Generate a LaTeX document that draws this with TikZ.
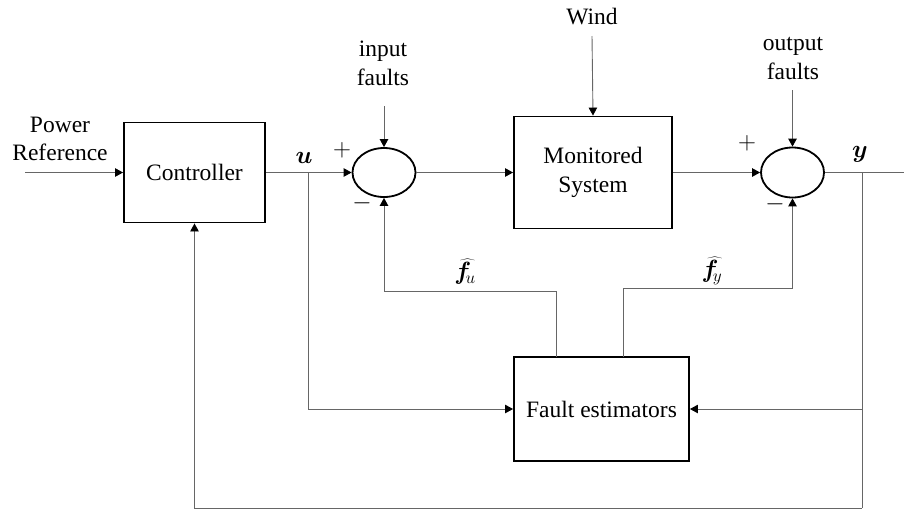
\documentclass[tikz,border=0pt]{standalone}
\usepackage{fontspec}
\usepackage{bm}
\setmainfont{Liberation Serif}
\usetikzlibrary{shapes.geometric,arrows.meta,calc}
\tikzset{
  txt/.style={font=\fontsize{23.5}{28.5}\selectfont, inner sep=0pt, align=center},
  blockbox/.style={draw=black, line width=1.9pt, rectangle, inner sep=0pt, font=\fontsize{23.5}{28.5}\selectfont, align=center},
  sumnode/.style={draw=black, line width=1.8pt, ellipse, inner sep=0pt, minimum width=63pt, minimum height=49pt},
  conn/.style={draw=black!60, line width=0.9pt},
  arr/.style={conn, -{Triangle[length=8pt,width=8.5pt,color=black]}},
}
\begin{document}
\begin{tikzpicture}[x=1pt,y=-1pt]
\useasboundingbox (0,0) rectangle (904,512);
% blocks
\node[blockbox, minimum width=141pt, minimum height=100pt] (ctrl) at (194.5,172.5) {Controller};
\node[sumnode] (s1) at (384,172.5) {};
\node[blockbox, minimum width=158pt, minimum height=112pt] (mon) at (593,172.5) {Monitored\\System};
\node[sumnode, minimum height=50pt] (s2) at (792.5,172.5) {};
\node[blockbox, minimum width=175pt, minimum height=104pt] (fe) at (601.5,409) {Fault estimators};
% texts
\node[txt] (pref) at (60,139) {Power\\Reference};
\node[txt] (inf) at (383,63.5) {input\\faults};
\node[txt] (wind) at (592,17) {Wind};
\node[txt] (outf) at (793,58.5) {output\\faults};
\node[txt] (ul) at (304,158) {$\bm{u}$};
\node[txt] (yl) at (860,154) {$\bm{y}$};
\node[txt] (fu) at (465,272) {$\widehat{\bm{f}}_{\!u}$};
\node[txt] (fy) at (712,271) {$\widehat{\bm{f}}_{\!y}$};
\node[txt] (p1) at (342,150) {$+$};
\node[txt] (m1) at (362,203) {$-$};
\node[txt] (p2) at (747,143) {$+$};
\node[txt] (m2) at (775,204) {$-$};
% coordinates
\coordinate (in) at (25,172.5);
\coordinate (ifs) at (384,106);
\coordinate (ws) at (592,36);
\coordinate (ofs) at (792.5,90);
\coordinate (out) at (904,172.5);
\coordinate (bu) at (308,172.5);
\coordinate (by) at (862,172.5);
\coordinate (byf) at (862,409);
\coordinate (bot) at (862,508);
\coordinate (fuc) at (384,291);
\coordinate (fyc) at (792.5,288);
\coordinate (feu) at (556,357);
\coordinate (fey) at (623,357);
% connectors
\draw[arr] (in) -- (ctrl.west);
\draw[arr] (ctrl.east) -- (s1.west);
\draw[arr] (ifs) -- (s1.north);
\draw[arr] (s1.east) -- (mon.west);
\draw[arr] (ws) -- (mon.north);
\draw[arr] (mon.east) -- (s2.west);
\draw[arr] (ofs) -- (s2.north);
\draw[conn] (s2.east) -- (out);
\draw[arr] (bu) |- (fe.west);
\draw[conn] (by) -- (bot);
\draw[arr] (bot) -| (ctrl.south);
\draw[arr] (byf) -- (fe.east);
\draw[arr] (feu) |- (fuc) -- (s1.south);
\draw[arr] (fey) |- (fyc) -- (s2.south);
\end{tikzpicture}
\end{document}
